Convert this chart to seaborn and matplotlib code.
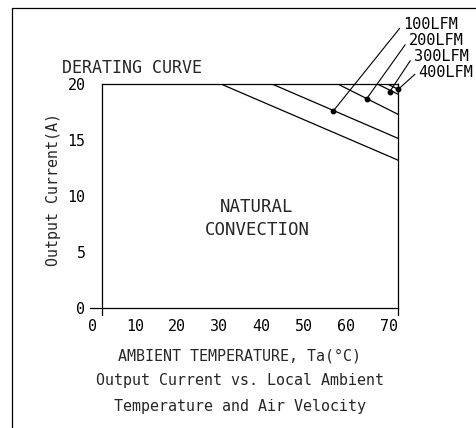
import matplotlib
matplotlib.use("Agg")
import matplotlib.pyplot as plt
import matplotlib.transforms as mtransforms
from matplotlib.lines import Line2D
import seaborn as sns
import pandas as pd

# ---- data ----
series = ["NATURAL", "100LFM", "200LFM", "300LFM", "400LFM"]
knee_temp = [28.2, 40.3, 55.8, 65.2, 67.6]        # temperature where derating starts (degC)
current_at_70 = [13.2, 15.15, 17.3, 19.1, 19.55]  # output current at 70 degC (A)
max_current = 20.0
min_temp = 0.0
max_temp = 70.0

label_series = ["100LFM", "200LFM", "300LFM", "400LFM"]
marker_temp = [54.6, 62.5, 68.0, 70.0]
marker_current = [17.6, 18.7, 19.35, 19.55]
label_pos_x = [71.1, 72.4, 73.6, 74.7]
label_pos_y = [25.31, 23.88, 22.49, 21.1]

x_ticks = [0, 10, 20, 30, 40, 50, 60, 70]
y_ticks = [0, 5, 10, 15, 20]
y_minor = [2.5, 7.5, 12.5, 17.5]

rows = []
for s, k, c in zip(series, knee_temp, current_at_70):
    rows += [(s, min_temp, max_current), (s, k, max_current), (s, max_temp, c)]
df = pd.DataFrame(rows, columns=["series", "temp", "current"])

sns.set_theme(style="white")
FONT = ["DejaVu Sans Mono", "DejaVu Sans"]
plt.rcParams["font.family"] = FONT

W, H = 476, 428
fig = plt.figure(figsize=(W / 100, H / 100), dpi=100)
x0, x70 = 102.3, 398.3
y0, y20 = 307.7, 84.3
ax = fig.add_axes([x0 / W, 1 - y0 / H, (x70 - x0) / W, (y0 - y20) / H])
ax.set_facecolor("white")

sns.lineplot(data=df, x="temp", y="current", units="series", estimator=None,
             color="black", linewidth=0.9, ax=ax, legend=False, sort=False)

ax.set_xlim(min_temp, max_temp)
ax.set_ylim(0, max_current)
ax.set_xlabel("")
ax.set_ylabel("")

for sp in ax.spines.values():
    sp.set_color("black")
    sp.set_linewidth(0.9)
ax.spines["left"].set_bounds(-0.65, max_current)
ax.spines["right"].set_bounds(-0.65, max_current)
ax.spines["bottom"].set_bounds(-2.9, max_temp)

ax.set_xticks(x_ticks)
ax.set_xticklabels([str(t) for t in x_ticks])
ax.set_yticks(y_ticks)
ax.set_yticklabels([str(t) for t in y_ticks])
ax.set_yticks(y_minor, minor=True)
ax.tick_params(axis="x", direction="in", length=5, width=0.9, pad=8,
               labelsize=10.8, colors="black", top=False)
ax.tick_params(axis="y", which="both", direction="out", length=8.6, width=0.9,
               pad=3.5, labelsize=10.8, colors="black", right=False)
ax.tick_params(axis="x", which="minor", bottom=False)

offset = mtransforms.ScaledTranslation(-7 / 72, 0, fig.dpi_scale_trans)
for lab in ax.get_xticklabels():
    lab.set_transform(lab.get_transform() + offset)

# markers + leaders
for name, mx, my, lx, ly in zip(label_series, marker_temp, marker_current, label_pos_x, label_pos_y):
    ax.plot([mx], [my], marker="o", ms=3.2, color="black", clip_on=False)
    ax.annotate(name, xy=(mx, my), xytext=(lx, ly), textcoords="data",
                fontsize=11, ha="left", va="center", color="black",
                arrowprops=dict(arrowstyle="-", lw=0.8, color="black",
                                shrinkA=0, shrinkB=0, relpos=(0, 0.55)),
                annotation_clip=False)

ax.text(-9.5, 21.46, "DERATING CURVE", fontsize=12, ha="left", va="center")
ax.text(36.6, 7.95, "NATURAL\nCONVECTION", fontsize=12.5, ha="center", va="center",
        linespacing=1.35)

def fy(py):
    return 1 - py / H

fig.text(54 / W, fy(189), "Output Current(A)", rotation=90, fontsize=10.8,
         ha="center", va="center")
fig.text(240 / W, fy(356), "AMBIENT TEMPERATURE, Ta(°C)", fontsize=10.8, ha="center", va="center")
fig.text(240 / W, fy(381), "Output Current vs. Local Ambient", fontsize=10.8, ha="center", va="center")
fig.text(240 / W, fy(406), "Temperature and Air Velocity", fontsize=10.8, ha="center", va="center")

# outer frame (top and left only)
fig.add_artist(Line2D([11.7 / W, 1], [fy(8.3), fy(8.3)], transform=fig.transFigure,
                      color="black", lw=0.9))
fig.add_artist(Line2D([11.7 / W, 11.7 / W], [fy(8.3), 0], transform=fig.transFigure,
                      color="black", lw=0.9))

fig.savefig("out.png", dpi=100, facecolor="white")
